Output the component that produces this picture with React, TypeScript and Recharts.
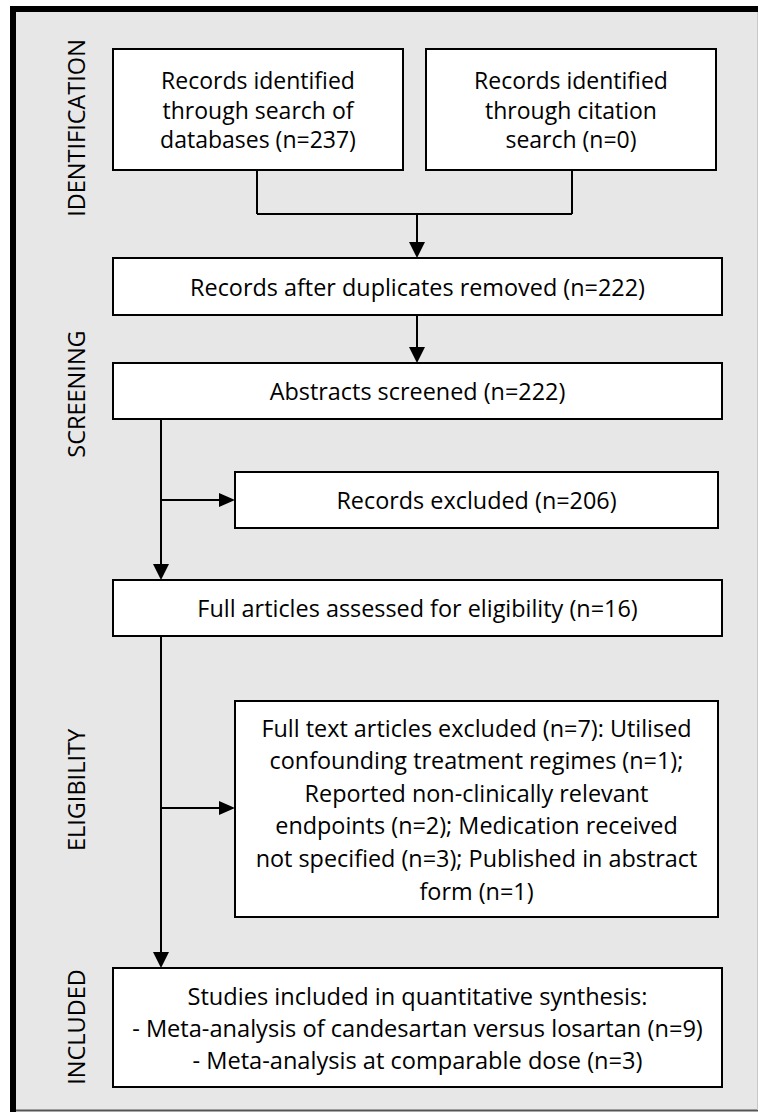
import React from "react";
import {
  ComposedChart,
  XAxis,
  YAxis,
  ReferenceArea,
  ReferenceLine,
  Scatter,
} from "recharts";

const FONT = "'Open Sans', 'Noto Sans', sans-serif";

// stage names down the left side
const stageNames = ["IDENTIFICATION", "SCREENING", "ELIGIBILITY", "INCLUDED"];

// text of each box, one entry per line
const boxText = [
  ["Records identified", "through search of", "databases (n=237)"],
  ["Records identified", "through citation", "search (n=0)"],
  ["Records after duplicates removed (n=222)"],
  ["Abstracts screened (n=222)"],
  ["Records excluded (n=206)"],
  ["Full articles assessed for eligibility (n=16)"],
  [
    "Full text articles excluded (n=7): Utilised",
    "confounding treatment regimes (n=1);",
    "Reported non-clinically relevant",
    "endpoints (n=2); Medication received",
    "not specified (n=3); Published in abstract",
    "form (n=1)",
  ],
  [
    "Studies included in quantitative synthesis:",
    "- Meta-analysis of candesartan versus losartan (n=9)",
    "- Meta-analysis at comparable dose (n=3)",
  ],
];

// layout in diagram units (x: 0-758, y: 0-1112 top down)
const boxLayout = [
  { x1: 113, x2: 403, y1: 49, y2: 170, lh: 29.5, fs: 23 },
  { x1: 426, x2: 716, y1: 49, y2: 170, lh: 29.5, fs: 23 },
  { x1: 113, x2: 722, y1: 258, y2: 315, lh: 30, fs: 23.4 },
  { x1: 113, x2: 722, y1: 363, y2: 419, lh: 30, fs: 23.4 },
  { x1: 235, x2: 718, y1: 472, y2: 528, lh: 30, fs: 23.4 },
  { x1: 113, x2: 722, y1: 580, y2: 636, lh: 30, fs: 23.4 },
  { x1: 235, x2: 718, y1: 701, y2: 917, lh: 32.6, fs: 23.4 },
  { x1: 113, x2: 722, y1: 968, y2: 1087, lh: 32, fs: 23.6 },
];

const stagePos = [
  { x: 76, y: 128 },
  { x: 76, y: 394 },
  { x: 76, y: 790 },
  { x: 76, y: 1027 },
];

const connectors = [
  [257, 170, 257, 214],
  [572, 170, 572, 214],
  [257, 214, 572, 214],
  [417, 214, 417, 250],
  [417, 315, 417, 355],
  [161, 419, 161, 572],
  [161, 500, 227, 500],
  [161, 636, 161, 960],
  [161, 808, 227, 808],
];

const arrowTips = [
  { x: 417, y: 258, dir: "down" },
  { x: 417, y: 363, dir: "down" },
  { x: 235, y: 500, dir: "right" },
  { x: 161, y: 580, dir: "down" },
  { x: 235, y: 808, dir: "right" },
  { x: 161, y: 968, dir: "down" },
];

const stageData = stageNames.map((name, i) => ({ name, ...stagePos[i] }));

const Arrowhead = (props: any) => {
  const { cx, cy, payload } = props;
  const pts =
    payload.dir === "down"
      ? `${cx - 8},${cy - 16} ${cx + 8},${cy - 16} ${cx},${cy}`
      : `${cx - 16},${cy - 7} ${cx - 16},${cy + 7} ${cx},${cy}`;
  return <polygon points={pts} fill="#000" />;
};

const StageLabel = (props: any) => {
  const { cx, cy, payload } = props;
  return (
    <text
      x={cx}
      y={cy}
      transform={`rotate(-90 ${cx} ${cy})`}
      textAnchor="middle"
      dominantBaseline="central"
      fontFamily={FONT}
      fontSize={23.5}
      fill="#000"
    >
      {payload.name}
    </text>
  );
};

const boxLabel = (lines: string[], lh: number, fs: number) => (props: any) => {
  const { x, y, width, height } = props.viewBox;
  const cx = x + width / 2;
  const top = y + height / 2 - ((lines.length - 1) * lh) / 2;
  return (
    <text
      textAnchor="middle"
      fontFamily={FONT}
      fontSize={fs}
      fill="#000"
      dominantBaseline="central"
    >
      {lines.map((l, i) => (
        <tspan key={i} x={cx} y={top + i * lh}>
          {l}
        </tspan>
      ))}
    </text>
  );
};

export default function App() {
  return (
    <div
      style={{
        position: "absolute",
        left: 0,
        top: 0,
        width: 758,
        height: 1112,
        background: "#fff",
      }}
    >
      <ComposedChart
        width={758}
        height={1112}
        margin={{ top: 0, right: 0, bottom: 0, left: 0 }}
      >
        <XAxis type="number" dataKey="x" domain={[0, 758]} hide />
        <YAxis type="number" dataKey="y" domain={[0, 1112]} reversed hide />

        {/* frame */}
        <ReferenceArea
          x1={13}
          x2={758}
          y1={9}
          y2={1111}
          fill="#e7e7e7"
          fillOpacity={1}
          stroke="none"
          ifOverflow="visible"
        />
        <ReferenceLine
          segment={[{ x: 10, y: 9 }, { x: 758, y: 9 }]}
          stroke="#000"
          strokeWidth={6}
          ifOverflow="visible"
        />
        <ReferenceLine
          segment={[{ x: 13, y: 6 }, { x: 13, y: 1112 }]}
          stroke="#000"
          strokeWidth={6}
          ifOverflow="visible"
        />
        <ReferenceLine
          segment={[{ x: 16, y: 1110.5 }, { x: 758, y: 1110.5 }]}
          stroke="#555"
          strokeWidth={2}
          ifOverflow="visible"
        />
        <ReferenceLine
          segment={[{ x: 757.5, y: 12 }, { x: 757.5, y: 1110 }]}
          stroke="#c8c8c8"
          strokeWidth={1}
          ifOverflow="visible"
        />

        {connectors.map((c, i) => (
          <ReferenceLine
            key={`c${i}`}
            segment={[{ x: c[0], y: c[1] }, { x: c[2], y: c[3] }]}
            stroke="#000"
            strokeWidth={2}
            ifOverflow="visible"
          />
        ))}

        {boxLayout.map((b, i) => (
          <ReferenceArea
            key={`b${i}`}
            x1={b.x1}
            x2={b.x2}
            y1={b.y1}
            y2={b.y2}
            fill="#fff"
            fillOpacity={1}
            stroke="#000"
            strokeWidth={2}
            ifOverflow="visible"
            label={boxLabel(boxText[i], b.lh, b.fs)}
          />
        ))}

        <Scatter
          data={arrowTips}
          dataKey="y"
          shape={Arrowhead}
          isAnimationActive={false}
        />
        <Scatter
          data={stageData}
          dataKey="y"
          shape={StageLabel}
          isAnimationActive={false}
        />
      </ComposedChart>
    </div>
  );
}
